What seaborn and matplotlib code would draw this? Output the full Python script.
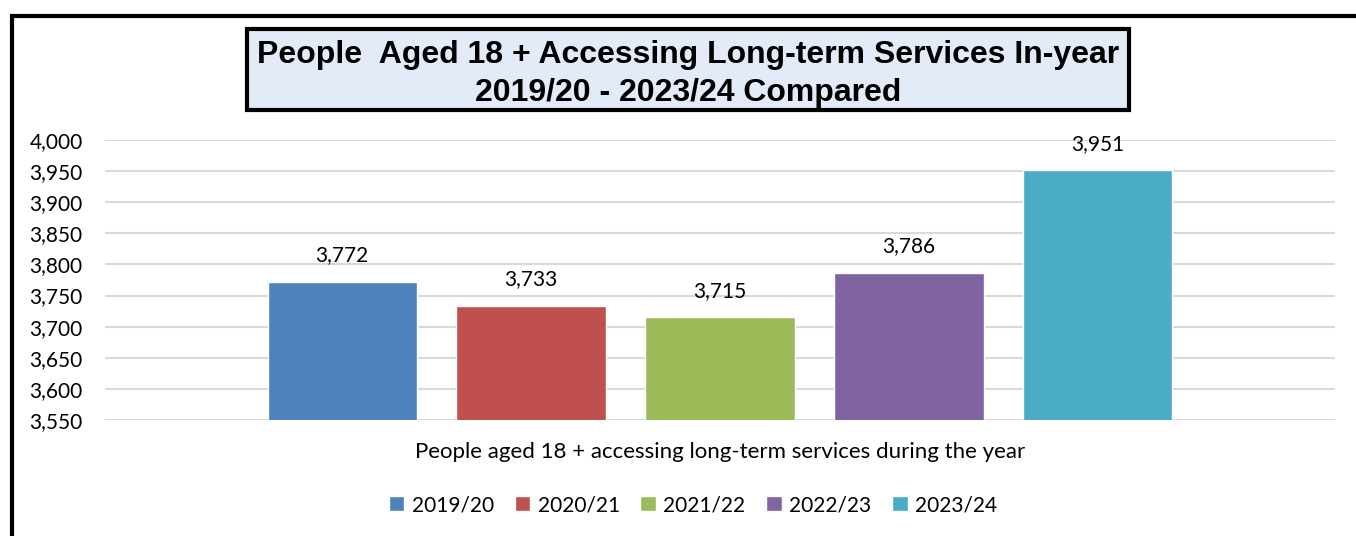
import matplotlib
matplotlib.use("Agg")
import matplotlib.pyplot as plt
import seaborn as sns
import pandas as pd
from matplotlib.patches import Rectangle
from matplotlib.ticker import FuncFormatter, MultipleLocator

years = ["2019/20", "2020/21", "2021/22", "2022/23", "2023/24"]
values = [3772, 3733, 3715, 3786, 3951]
category = ["People aged 18 + accessing long-term services during the year"] * 5
colors = ["#4F81BD", "#C0504D", "#9BBB59", "#8064A2", "#4BACC6"]
title_text = "People  Aged 18 + Accessing Long-term Services In-year\n2019/20 - 2023/24 Compared"

df = pd.DataFrame({"category": category, "year": years, "value": values})

sns.set_theme(style="white")
plt.rcParams["font.family"] = ["Lato", "DejaVu Sans"]
plt.rcParams["text.color"] = "black"
plt.rcParams["ytick.color"] = "black"
plt.rcParams["xtick.color"] = "black"

W, H = 1356, 536
fig = plt.figure(figsize=(W / 100, H / 100), dpi=100)
ax = fig.add_axes([105 / W, 1 - 420 / H, 1230 / W, 280 / H])

sns.barplot(data=df, x="category", y="value", hue="year", palette=colors,
            width=0.768, gap=0.21, ax=ax, legend=True, saturation=1)

ax.set_ylim(3550, 4000)
ax.set_xlim(-0.5, 0.5)
ax.yaxis.set_major_locator(MultipleLocator(50))
ax.yaxis.set_major_formatter(FuncFormatter(lambda v, p: f"{int(v):,}"))
ax.grid(axis="y", color="#D9D9D9", linewidth=1.5)
ax.set_axisbelow(True)
for s in ax.spines.values():
    s.set_visible(False)
ax.tick_params(axis="y", length=0, pad=16, labelsize=15, colors="black")
ax.set_xticks([])
ax.set_ylabel("")
ax.set_xlabel("")

for c in ax.containers:
    ax.bar_label(c, labels=[f"{int(v):,}" for v in c.datavalues], padding=12,
                 fontsize=15, color="black")

fig.text(720 / W, 1 - 452 / H, category[0], ha="center", va="center", fontsize=16, color="black")

handles, labels = ax.get_legend_handles_labels()
ax.legend_.remove()
fig.legend(handles, labels, loc="center", bbox_to_anchor=(693 / W, 1 - 505 / H),
           ncol=5, frameon=False, fontsize=15, handlelength=0.75, handleheight=0.75,
           handletextpad=0.35, columnspacing=1.0, labelcolor="black")

# outer frame
fig.patches.append(Rectangle((12 / W, -0.2), 1.3, 0.2 + (1 - 16 / H), transform=fig.transFigure,
                             fill=False, edgecolor="black", linewidth=3))
# title box
fig.patches.append(Rectangle((247 / W, 1 - 110 / H), 882 / W, 81 / H, transform=fig.transFigure,
                             facecolor="#E3EBF8", edgecolor="black", linewidth=3, zorder=2))
fig.text(688 / W, 1 - 74 / H, title_text, ha="center", va="center", fontsize=23,
         fontweight="bold", family=["Liberation Sans", "DejaVu Sans"], linespacing=1.33,
         color="black", zorder=3)

fig.savefig("out.png", dpi=100)
